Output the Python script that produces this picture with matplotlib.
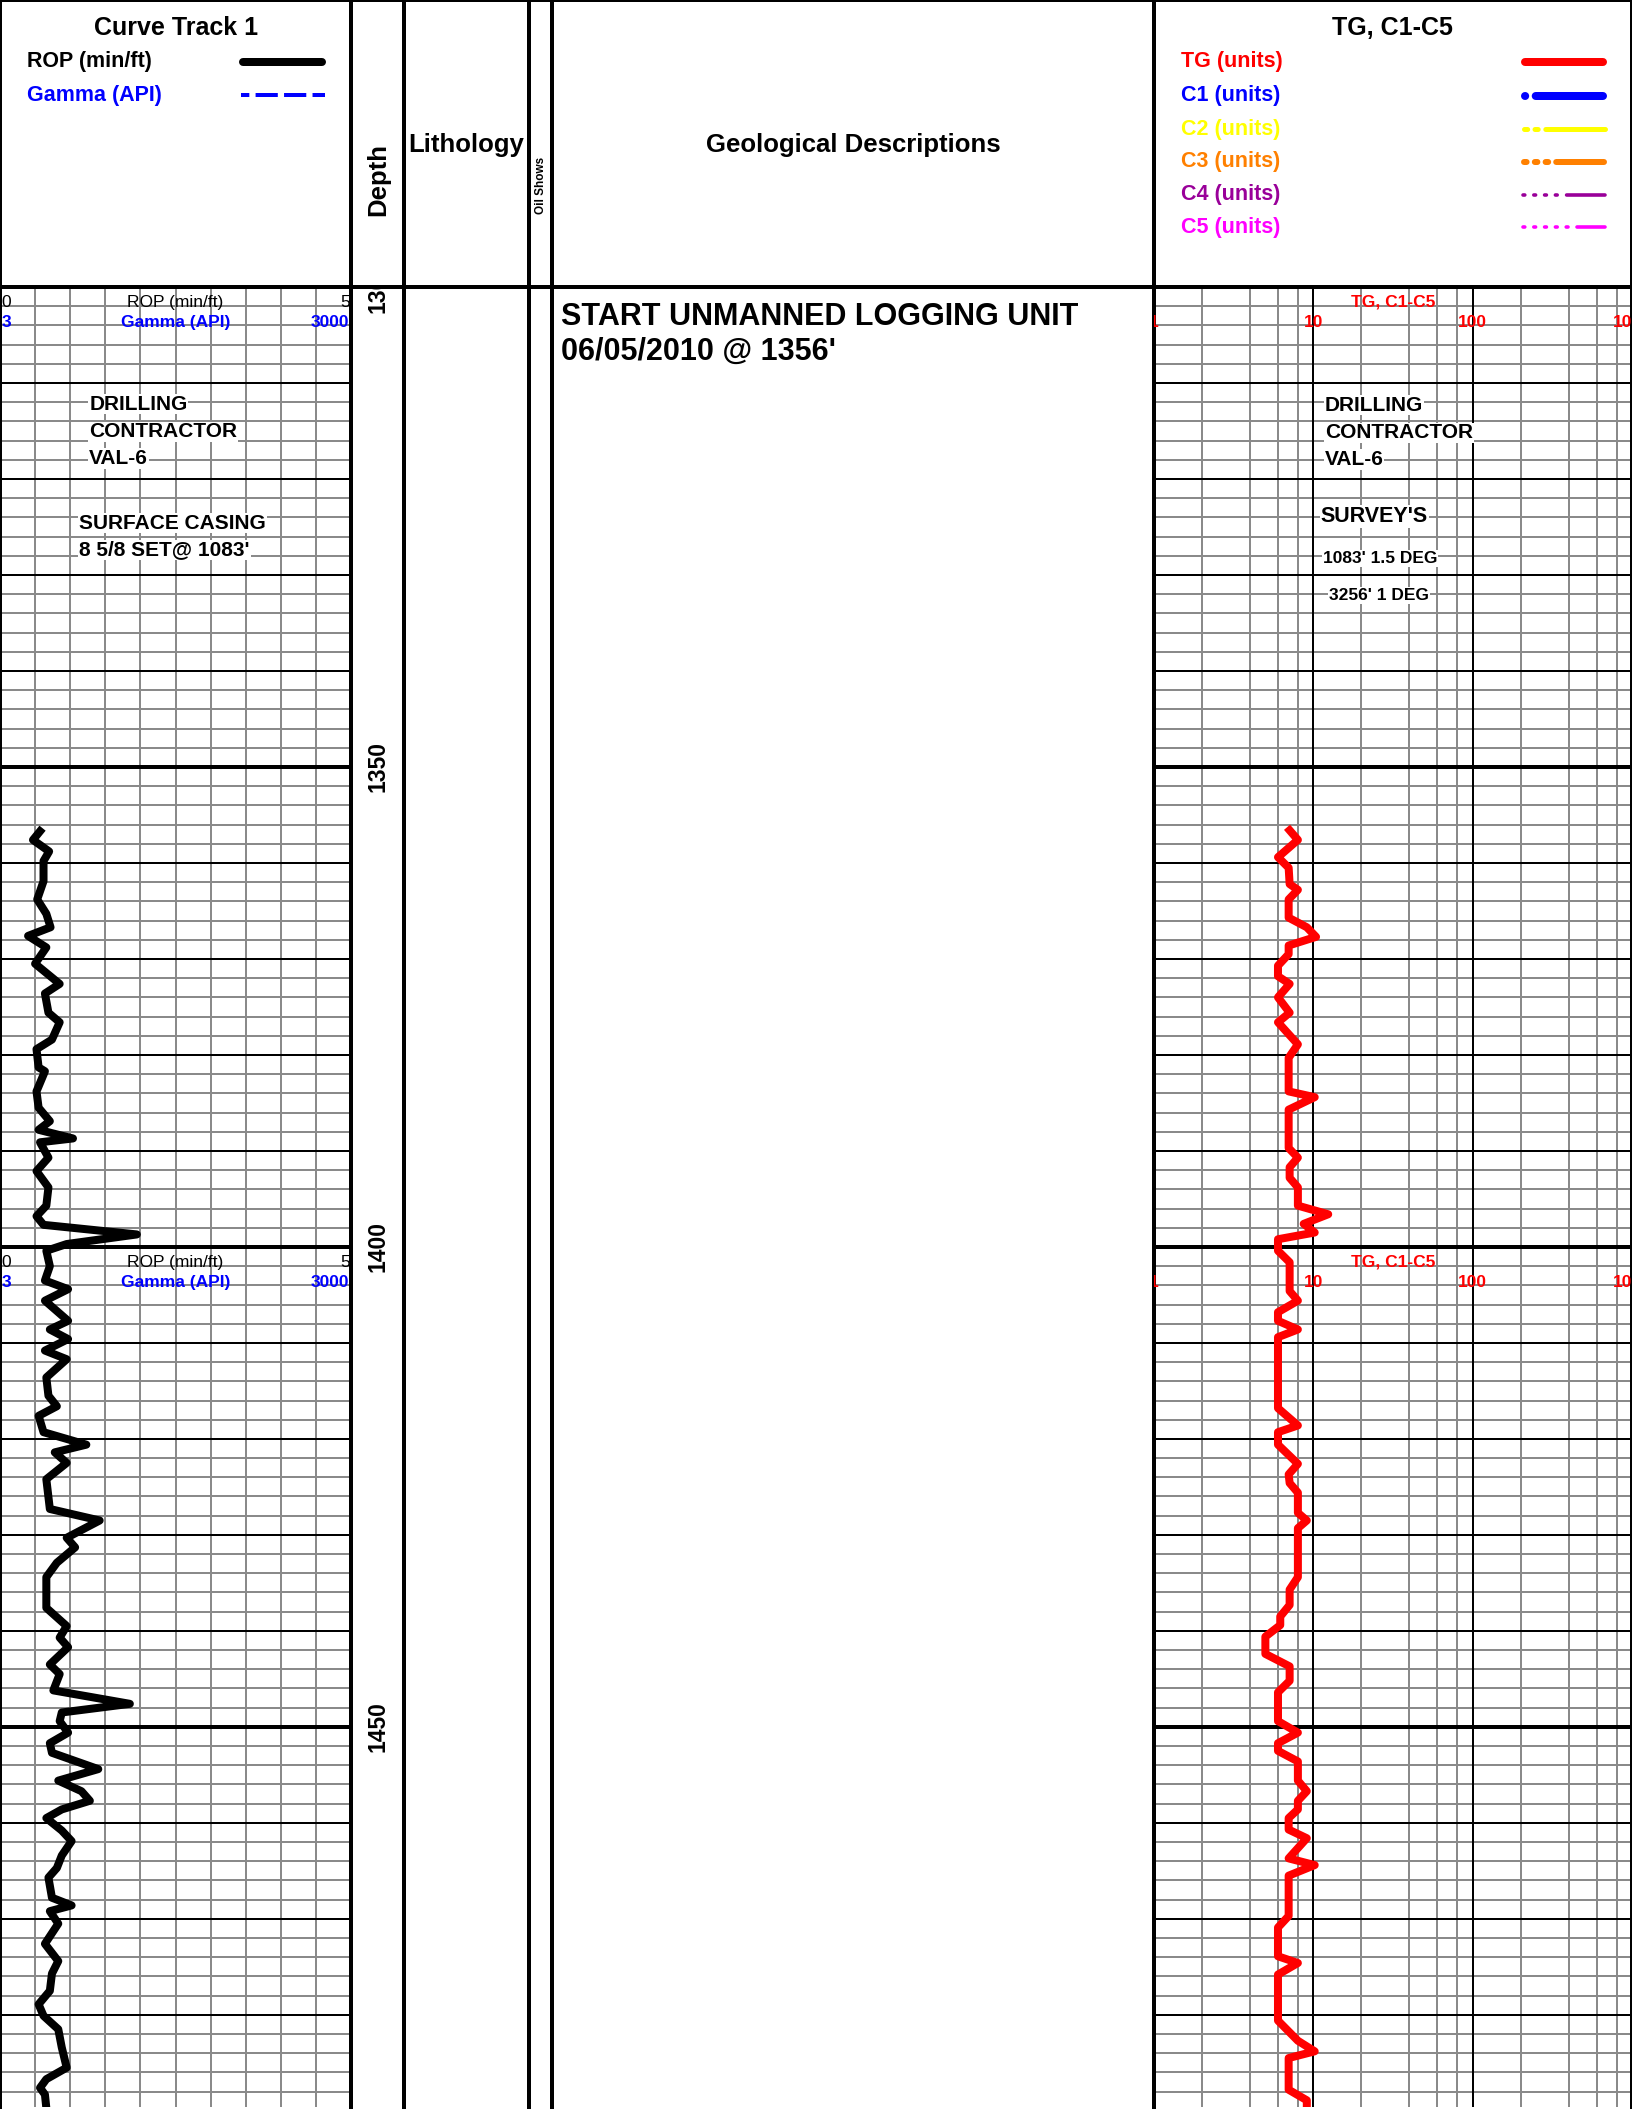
import numpy as np
import matplotlib
matplotlib.use("Agg")
import matplotlib.pyplot as plt

plt.rcParams['font.family'] = ['Liberation Sans', 'DejaVu Sans']
plt.rcParams['lines.scale_dashes'] = False

rop_depth = [1356.7, 1357.6, 1358.8, 1359.8, 1361.9, 1363.8, 1365.3, 1366.7, 1367.6, 1368.8,
             1370.5, 1372.6, 1373.6, 1375.6, 1376.6, 1378.4, 1379.4, 1381.3, 1381.7, 1383.8,
             1385.5, 1386.9, 1387.8, 1388.7, 1389.1, 1390.7, 1392.1, 1393.8, 1395.7, 1396.8,
             1397.7, 1398.7, 1399.7, 1400.4, 1402.0, 1403.5, 1404.4, 1405.6, 1407.7, 1408.6,
             1409.6, 1410.8, 1411.7, 1413.6, 1415.5, 1416.6, 1417.6, 1419.3, 1420.6, 1421.4,
             1422.5, 1424.2, 1427.3, 1428.5, 1430.3, 1431.3, 1432.9, 1434.4, 1437.6, 1439.5,
             1440.7, 1441.7, 1443.5, 1444.5, 1446.2, 1447.6, 1448.5, 1449.4, 1450.6, 1451.7,
             1452.7, 1454.4, 1455.6, 1456.7, 1457.7, 1458.6, 1459.5, 1460.8, 1461.9, 1463.4,
             1464.7, 1465.7, 1467.8, 1468.6, 1469.2, 1470.5, 1472.6, 1474.4, 1475.7, 1477.5,
             1478.9, 1480.1, 1481.5, 1483.4, 1485.5, 1486.7, 1487.6, 1488.3, 1489.7]
rop_val = [0.57, 0.47, 0.70, 0.62, 0.62, 0.53, 0.66, 0.72, 0.40, 0.66,
           0.50, 0.85, 0.64, 0.69, 0.85, 0.74, 0.52, 0.55, 0.64, 0.52,
           0.55, 0.71, 0.55, 1.04, 0.57, 0.69, 0.52, 0.69, 0.66, 0.52,
           0.62, 1.95, 0.95, 0.66, 0.71, 0.64, 0.97, 0.64, 0.97, 0.71,
           0.97, 0.64, 0.95, 0.66, 0.69, 0.81, 0.55, 0.62, 1.23, 0.78,
           0.95, 0.66, 0.71, 1.42, 0.95, 1.07, 0.81, 0.66, 0.66, 0.95,
           0.85, 0.97, 0.71, 0.85, 0.76, 1.85, 0.88, 0.85, 0.97, 0.71,
           0.74, 1.40, 0.83, 1.16, 1.28, 0.88, 0.66, 0.88, 1.02, 0.88,
           0.81, 0.69, 0.74, 1.02, 0.71, 0.83, 0.64, 0.83, 0.74, 0.71,
           0.55, 0.62, 0.83, 0.88, 0.95, 0.66, 0.57, 0.64, 0.66]

tg_depth = [1356.6, 1357.6, 1359.4, 1360.5, 1362.2, 1362.8, 1363.8, 1365.7, 1366.7, 1367.7,
            1368.6, 1369.5, 1370.7, 1371.8, 1372.6, 1374.0, 1375.6, 1376.6, 1378.9, 1380.3,
            1383.8, 1384.4, 1385.7, 1389.7, 1390.7, 1391.7, 1392.8, 1393.8, 1395.7, 1396.6,
            1397.6, 1398.5, 1399.2, 1400.4, 1401.6, 1404.6, 1405.6, 1406.8, 1407.7, 1408.6,
            1409.4, 1416.8, 1418.6, 1419.3, 1420.6, 1422.6, 1423.7, 1424.6, 1425.6, 1427.7,
            1428.5, 1429.3, 1434.4, 1435.7, 1437.3, 1438.5, 1439.4, 1440.6, 1442.4, 1443.7,
            1445.2, 1446.4, 1449.4, 1450.6, 1451.7, 1452.5, 1453.6, 1455.6, 1456.7, 1457.7,
            1458.6, 1459.5, 1460.7, 1461.6, 1463.7, 1464.4, 1465.5, 1469.7, 1470.9, 1473.9,
            1474.6, 1475.8, 1480.6, 1482.7, 1483.8, 1484.5, 1487.8, 1488.9, 1489.7]
tg_val = [7.1, 8.0, 6.0, 7.0, 7.1, 8.0, 7.0, 7.0, 9.1, 10.4,
          7.0, 7.0, 6.0, 6.0, 7.1, 6.0, 7.1, 6.0, 8.0, 7.0,
          7.0, 10.2, 7.0, 7.0, 8.0, 7.1, 7.1, 8.0, 8.0, 12.4,
          8.7, 10.2, 6.0, 6.0, 7.1, 7.1, 8.0, 6.0, 6.0, 8.0,
          6.0, 6.0, 8.0, 6.0, 6.0, 8.0, 7.0, 7.1, 8.0, 8.0,
          9.1, 8.0, 8.0, 7.1, 7.1, 6.2, 6.2, 5.0, 5.0, 7.1,
          7.1, 6.0, 6.0, 8.0, 6.0, 6.0, 8.0, 8.0, 9.1, 8.0,
          8.0, 7.0, 7.0, 9.1, 7.0, 10.2, 7.0, 7.0, 6.0, 6.0,
          8.0, 6.0, 6.0, 8.0, 10.2, 7.0, 7.0, 9.1, 9.1]

depth_labels = [1300, 1350, 1400, 1450]
scale_depths = [1300, 1400]
gas_ticks = [1, 10, 100, 1000]
gas_names = ['TG (units)', 'C1 (units)', 'C2 (units)', 'C3 (units)', 'C4 (units)', 'C5 (units)']
gas_colors = ['#ff0000', '#0000ff', '#ffff00', '#ff8000', '#990099', '#ff00ff']

# ---- layout in pixels ----
W, H = 1632, 2112
TOP, BOT = 287, 2107
D_TOP, D_BOT = 1300, 1489.6
X_T1, X_DEP, X_LIT, X_OIL, X_GEO, X_GAS, X_END = 0, 351, 404, 529, 552, 1154, 1632
PX = 0.72  # points per pixel at 100 dpi
GRAY = '#8a8a8a'

fig = plt.figure(figsize=(W / 100, H / 100), dpi=100)


def px_axes(x0, y0, x1, y1):
    ax = fig.add_axes([x0 / W, 1 - y1 / H, (x1 - x0) / W, (y1 - y0) / H])
    ax.set_xticks([])
    ax.set_yticks([])
    for s in ax.spines.values():
        s.set_linewidth(4 * PX)
    return ax


def header(x0, x1):
    ax = px_axes(x0, 0, x1, TOP)
    ax.set_xlim(0, x1 - x0)
    ax.set_ylim(TOP, 0)
    return ax


def body(x0, x1):
    ax = px_axes(x0, TOP, x1, BOT)
    ax.set_ylim(D_BOT, D_TOP)
    ax.spines['bottom'].set_visible(False)
    return ax


def depth_grid(ax):
    for d in range(1302, 1490, 2):
        if d % 50 == 0:
            ax.axhline(d, color='black', lw=4 * PX, zorder=1)
        elif d % 10 == 0:
            ax.axhline(d, color='black', lw=2 * PX, zorder=1)
        else:
            ax.axhline(d, color=GRAY, lw=2 * PX, zorder=0.9)


def note(ax, x, d, s, size):
    ax.text(x, d, s, fontsize=size, fontweight='bold', ha='left', va='center', zorder=4,
            bbox=dict(facecolor='white', edgecolor='none', pad=0.6))


def dots(n, on_px, off_px, last_px):
    # n short dashes (round caps make them dots), then one long run
    seq = []
    for i in range(n):
        seq += [on_px * PX, (last_px if i == n - 1 else off_px) * PX]
    seq[-1] = last_px * PX
    return tuple(seq + [400, 1])


# ---- headers ----
h1 = header(X_T1, X_DEP)
h1.text(176, 28, 'Curve Track 1', fontsize=18, fontweight='bold', ha='center', va='center')
h1.text(27, 61, 'ROP (min/ft)', fontsize=15.5, fontweight='bold', ha='left', va='center')
h1.plot([243, 322], [62, 62], color='black', lw=8 * PX, solid_capstyle='round')
h1.text(27, 95, 'Gamma (API)', fontsize=15.5, fontweight='bold', color='#0000ff', ha='left', va='center')
h1.plot([241, 325], [95, 95], color='#0000ff', lw=4 * PX, linestyle=(10, (16, 4.5)))

hd = header(X_DEP, X_LIT)
hd.text(27, 179, 'Depth', fontsize=18.5, fontweight='bold', rotation=90, ha='center', va='center')

hl = header(X_LIT, X_OIL)
hl.text(62.5, 145, 'Lithology', fontsize=18.5, fontweight='bold', ha='center', va='center')

ho = header(X_OIL, X_GEO)
ho.text(11.5, 185, 'Oil Shows', fontsize=8.5, fontweight='bold', rotation=90, ha='center', va='center')

hg = header(X_GEO, X_GAS)
hg.text(301, 145, 'Geological Descriptions', fontsize=18.5, fontweight='bold', ha='center', va='center')

hgas = header(X_GAS, X_END)
hgas.text(238, 28, 'TG, C1-C5', fontsize=18, fontweight='bold', ha='center', va='center')
leg_y = [62, 96, 129, 162, 194.5, 227]
leg_lw = [8, 8, 5, 6, 3.6, 3.6]
leg_dash = [
    None,
    dots(1, 0.2, 10.5, 10.5),
    dots(2, 3.2, 7.3, 7.6),
    dots(3, 2.6, 8.2, 8.0),
    dots(4, 1.8, 9.0, 9.4),
    dots(5, 1.8, 9.0, 9.0),
]
for name, col, y, lw, dash in zip(gas_names, gas_colors, leg_y, leg_lw, leg_dash):
    hgas.text(27, y, name, fontsize=15.5, fontweight='bold', color=col, ha='left', va='center')
    x0 = 1521 - X_GAS + lw / 2
    x1 = 1607 - X_GAS - lw / 2
    if dash is None:
        hgas.plot([x0, x1], [y, y], color=col, lw=lw * PX, solid_capstyle='round')
    else:
        hgas.plot([x0, x1], [y, y], color=col, lw=lw * PX, linestyle=(0, dash),
                  dash_capstyle='round')

# ---- track 1: ROP ----
t1 = body(X_T1, X_DEP)
t1.set_xlim(0, 5)
for v in np.arange(0.5, 5, 0.5):
    t1.axvline(v, color=GRAY, lw=2 * PX, zorder=0.9)
depth_grid(t1)
for d0 in scale_depths:
    t1.text(0.02, d0 + 1.6, '0', fontsize=12.5, ha='left', va='center', clip_on=True, zorder=4)
    t1.text(2.5, d0 + 1.6, 'ROP (min/ft)', fontsize=12.5, ha='center', va='center', clip_on=True, zorder=4)
    t1.text(4.98, d0 + 1.6, '5', fontsize=12.5, ha='right', va='center', clip_on=True, zorder=4)
    t1.text(0.02, d0 + 3.7, '3', fontsize=12.5, fontweight='bold', color='#0000ff',
            ha='left', va='center', clip_on=True, zorder=4)
    t1.text(2.5, d0 + 3.7, 'Gamma (API)', fontsize=12.5, fontweight='bold', color='#0000ff',
            ha='center', va='center', clip_on=True, zorder=4)
    t1.text(4.98, d0 + 3.7, '3000', fontsize=12.5, fontweight='bold', color='#0000ff',
            ha='right', va='center', clip_on=True, zorder=4)
note(t1, 1.27, 1312.2, 'DRILLING', 15)
note(t1, 1.27, 1315.1, 'CONTRACTOR', 15)
note(t1, 1.27, 1317.9, 'VAL-6', 15)
note(t1, 1.13, 1324.6, 'SURFACE CASING', 15)
note(t1, 1.13, 1327.4, "8 5/8 SET@ 1083'", 15)
t1.plot(rop_val, rop_depth, color='black', lw=8 * PX, solid_joinstyle='round', zorder=3)

# ---- depth track ----
td = body(X_DEP, X_LIT)
td.set_xlim(0, 1)
for d in depth_labels:
    td.text(0.5, d, str(d), fontsize=16.5, fontweight='bold', rotation=90,
            ha='center', va='center', clip_on=True)

# ---- lithology / oil shows ----
body(X_LIT, X_OIL)
body(X_OIL, X_GEO)

# ---- geological descriptions ----
tgeo = body(X_GEO, X_GAS)
tgeo.set_xlim(0, X_GAS - X_GEO)
tgeo.text(9, 1303.1, 'START UNMANNED LOGGING UNIT', fontsize=22, fontweight='bold', ha='left', va='center')
tgeo.text(9, 1306.8, "06/05/2010 @ 1356'", fontsize=22, fontweight='bold', ha='left', va='center')

# ---- gas track ----
tg = body(X_GAS, X_END)
tg.set_xscale('log')
tg.set_xlim(1, 1000)
tg.set_xticks([])
tg.set_xticks([], minor=True)
for dec in [1, 10, 100]:
    for m in [2, 4, 6, 8]:
        tg.axvline(dec * m, color=GRAY, lw=2 * PX, zorder=0.9)
for dec in [10, 100]:
    tg.axvline(dec, color='black', lw=2 * PX, zorder=1)
depth_grid(tg)
for d0 in scale_depths:
    tg.text(31.6, d0 + 1.6, 'TG, C1-C5', fontsize=12.5, fontweight='bold', color='#ff0000',
            ha='center', va='center', clip_on=True, zorder=4)
    for t in gas_ticks:
        tg.text(t, d0 + 3.7, str(t), fontsize=12.5, fontweight='bold', color='#ff0000',
                ha='center', va='center', clip_on=True, zorder=4)
note(tg, 11.8, 1312.3, 'DRILLING', 15)
note(tg, 11.8, 1315.2, 'CONTRACTOR', 15)
note(tg, 11.8, 1318.0, 'VAL-6', 15)
note(tg, 11.1, 1323.9, "SURVEY'S", 15.5)
note(tg, 11.5, 1328.3, "1083' 1.5 DEG", 12.5)
note(tg, 12.5, 1332.1, "3256' 1 DEG", 12.5)
tg.plot(tg_val, tg_depth, color='#ff0000', lw=8 * PX, solid_joinstyle='round', zorder=3)

fig.savefig('out.png', dpi=100)
